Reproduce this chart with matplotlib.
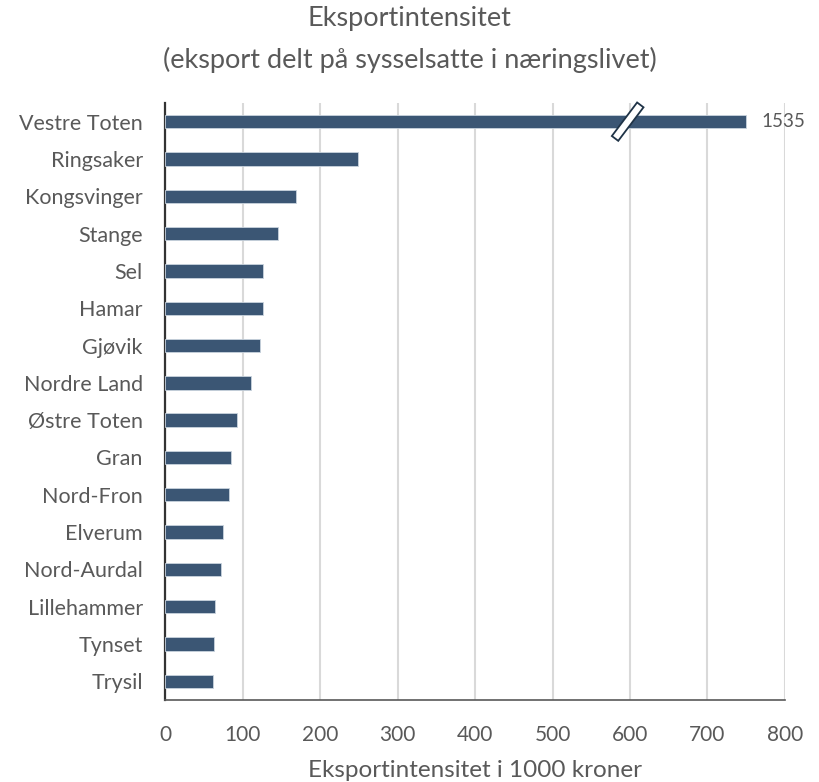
import numpy as np
import matplotlib.pyplot as plt
import matplotlib
from matplotlib.patches import Rectangle
from matplotlib.transforms import Affine2D, ScaledTranslation

matplotlib.rcParams['font.family'] = ['Lato', 'DejaVu Sans']

kommuner = ['Vestre Toten', 'Ringsaker', 'Kongsvinger', 'Stange', 'Sel', 'Hamar',
            'Gjøvik', 'Nordre Land', 'Østre Toten', 'Gran', 'Nord-Fron', 'Elverum',
            'Nord-Aurdal', 'Lillehammer', 'Tynset', 'Trysil']
verdier = [1535, 249, 169, 146, 127, 126, 123, 111, 93, 85, 83, 75, 72, 65, 63, 62]

cap = 750          # bars longer than this are cut and marked with a break
grey = '#595959'
bar_col = '#3b5674'

fig = plt.figure(figsize=(8.19, 7.82), dpi=100)
ax = fig.add_axes([165/819, 1 - 700/782, 620/819, 597/782])

y = np.arange(len(kommuner))
shown = [min(v, cap) for v in verdier]
ax.barh(y, shown, height=0.36, color=bar_col, edgecolor='#c9d3de', linewidth=0.6, zorder=3)

ax.set_ylim(len(kommuner) - 0.5, -0.5)
ax.set_xlim(0, 800)
ax.set_yticks(y)
ax.set_yticklabels(kommuner, fontsize=15.5, color=grey)
ax.set_xticks(np.arange(0, 801, 100))
ax.tick_params(axis='x', labelsize=15, labelcolor=grey, length=0, pad=18)
ax.tick_params(axis='y', length=0, pad=16)

ax.xaxis.grid(True, color='#d9d9d9', linewidth=1.5, zorder=0)
ax.set_axisbelow(True)
for s in ['top', 'right']:
    ax.spines[s].set_visible(False)
ax.spines['left'].set_color('#333333')
ax.spines['left'].set_linewidth(1.6)
ax.spines['bottom'].set_color('#595959')
ax.spines['bottom'].set_linewidth(1.2)

# break marker + real value for capped bars
for i, v in enumerate(verdier):
    if v > cap:
        tr = (Affine2D().scale(1/100).rotate_deg(-37) + fig.dpi_scale_trans +
              ScaledTranslation(597, i, ax.transData))
        ax.add_patch(Rectangle((-4, -21), 8, 42, transform=tr, facecolor='white',
                               edgecolor='#1f3347', linewidth=1.3, zorder=5, clip_on=False))
        ax.annotate(str(v), xy=(cap, i), xytext=(11, 0), textcoords='offset points',
                    va='center', ha='left', fontsize=13.5, color=grey)

ax.set_xlabel('Eksportintensitet i 1000 kroner', fontsize=17.5, color=grey, labelpad=11)
fig.suptitle('Eksportintensitet\n(eksport delt på sysselsatte i næringslivet)',
             fontsize=19.5, color=grey, y=0.992, linespacing=1.75)

plt.savefig('out.png', dpi=100)
